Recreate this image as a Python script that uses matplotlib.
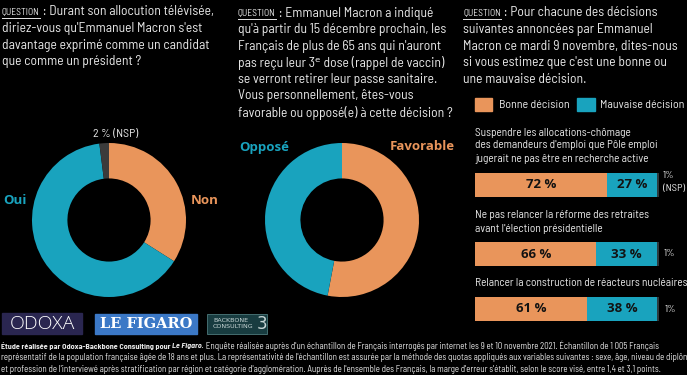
import matplotlib.pyplot as plt
from matplotlib.patches import Rectangle

# sondage Odoxa - Backbone Consulting pour Le Figaro, 9-10 nov 2021
q1_labels = ['Non', 'Oui', 'NSP']
q1_values = [34, 64, 2]

q2_labels = ['Favorable', 'Opposé']
q2_values = [53, 47]

q3_items = ['Suspendre les allocations-chômage', 'Ne pas relancer la réforme des retraites', 'Relancer la construction de réacteurs nucléaires']
q3_bonne = [72, 66, 61]
q3_mauvaise = [27, 33, 38]
q3_nsp = [1, 1, 1]

ORANGE = '#E9955B'
TEAL = '#19A3BE'
GREY = '#3b3b3b'
TXT = '#e8e8e8'
DARK = '#121212'
FONT = ['Barlow Semi Condensed', 'Barlow Condensed', 'Encode Sans Condensed', 'DejaVu Sans']
BOLD = ['Open Sans', 'DejaVu Sans']
W, H = 687, 375

plt.rcParams['font.family'] = FONT

fig = plt.figure(figsize=(W / 100, H / 100), dpi=100, facecolor='black')
bg = fig.add_axes([0, 0, 1, 1])
bg.set_xlim(0, W)
bg.set_ylim(H, 0)
bg.axis('off')
bg.set_facecolor('black')
renderer = fig.canvas.get_renderer()


def right_of(t):
	bb = t.get_window_extent(renderer)
	return bg.transData.inverted().transform((bb.x1, bb.y0))[0]


def question(x, y, first, rest, size=9.8, step=16.6):
	q = bg.text(x, y + 0.8, 'QUESTION', color=TXT, fontsize=size * 0.7, va='center')
	x1 = right_of(q)
	bg.plot([x, x1], [y + 5.5, y + 5.5], color=TXT, lw=0.7)
	bg.text(x1, y, ' : ' + first, color=TXT, fontsize=size, va='center')
	for i, line in enumerate(rest):
		bg.text(x, y + step * (i + 1), line, color=TXT, fontsize=size, va='center')


question(2, 12, 'Durant son allocution télévisée,',
	["diriez-vous qu'Emmanuel Macron s'est",
	 'davantage exprimé comme un candidat',
	 'que comme un président ?'])
question(238, 13, 'Emmanuel Macron a indiqué',
	["qu'à partir du 15 décembre prochain, les",
	 "Français de plus de 65 ans qui n'auront",
	 'pas reçu leur 3ᵉ dose (rappel de vaccin)',
	 'se verront retirer leur passe sanitaire.',
	 'Vous personnellement, êtes-vous',
	 'favorable ou opposé(e) à cette décision ?'])
question(463, 13, 'Pour chacune des décisions',
	['suivantes annoncées par Emmanuel',
	 'Macron ce mardi 9 novembre, dites-nous',
	 "si vous estimez que c'est une bonne ou",
	 'une mauvaise décision.'])


# donuts
def donut(cx, cy, r, values, colors):
	ax = fig.add_axes([(cx - r) / W, 1 - (cy + r) / H, 2 * r / W, 2 * r / H])
	ax.pie(values, colors=colors, startangle=90, counterclock=False,
		wedgeprops=dict(width=0.46, edgecolor='none'))
	ax.set_xlim(-1, 1)
	ax.set_ylim(-1, 1)
	ax.axis('off')
	return ax


donut(109, 220, 77, q1_values, [ORANGE, TEAL, GREY])
donut(342, 220, 77, q2_values, [ORANGE, TEAL])

bold = dict(fontsize=9.5, fontweight='bold', va='center', ha='center', family=BOLD)
bg.text(15, 201, q1_labels[1], color=TEAL, **bold)
bg.text(205, 201, q1_labels[0], color=ORANGE, **bold)
bg.text(52, 200, '%d %%' % q1_values[1], color=DARK, **bold)
bg.text(164, 200, '%d %%' % q1_values[0], color=DARK, **bold)
bg.text(116, 134, '%d %% (NSP)' % q1_values[2], color=TXT, fontsize=8.6, va='center', ha='center')

bg.text(264, 147, q2_labels[1], color=TEAL, **bold)
bg.text(422, 147, q2_labels[0], color=ORANGE, **bold)
bg.text(282, 221, '%d %%' % q2_values[1], color=DARK, **bold)
bg.text(402, 219, '%d %%' % q2_values[0], color=DARK, **bold)

# legende
bg.add_patch(Rectangle((475, 98), 17, 13, color=ORANGE))
bg.text(499, 104.5, 'Bonne décision', color=TXT, fontsize=8.6, va='center')
bg.add_patch(Rectangle((577, 98), 18, 13, color=TEAL))
bg.text(600, 104.5, 'Mauvaise décision', color=TXT, fontsize=8.6, va='center')

# barres
item_text = [
	['Suspendre les allocations-chômage', "des demandeurs d'emploi que Pôle emploi", 'jugerait ne pas être en recherche active'],
	['Ne pas relancer la réforme des retraites', "avant l'élection présidentielle"],
	['Relancer la construction de réacteurs nucléaires'],
]
text_y = [132.5, 215.5, 283.5]
bar_y = [185, 254, 308.5]
for i in range(3):
	for j, line in enumerate(item_text[i]):
		bg.text(475, text_y[i] + 13 * j, line, color=TXT, fontsize=8.2, va='center')
	ax = fig.add_axes([475 / W, 1 - (bar_y[i] + 12) / H, 184 / W, 24 / H])
	segs = [q3_bonne[i], q3_mauvaise[i], q3_nsp[i]]
	cols = [ORANGE, TEAL, '#2e3a3e']
	left = 0
	for v, c in zip(segs, cols):
		ax.barh(0, v, left=left, height=1, color=c, edgecolor='none')
		if c != cols[2]:
			ax.text(left + v / 2, 0, '%d %%' % v, color=DARK, fontsize=9.5,
				fontweight='bold', ha='center', va='center', family=BOLD)
		left += v
	ax.set_xlim(0, 100)
	ax.set_ylim(-0.5, 0.5)
	ax.axis('off')

bg.text(663, 176, '%d%%' % q3_nsp[0], color=TXT, fontsize=7.5, va='center')
bg.text(663, 189, '(NSP)', color=TXT, fontsize=7.5, va='center')
bg.text(664, 254, '%d%%' % q3_nsp[1], color=TXT, fontsize=7.5, va='center')
bg.text(665, 309, '%d%%' % q3_nsp[2], color=TXT, fontsize=7.5, va='center')

# logos
bg.add_patch(Rectangle((2, 313), 80, 21, color='#2a2650'))
bg.text(42, 324, 'ODOXA', color='white', fontsize=14, fontweight='light', ha='center',
	va='center', family=BOLD)
bg.add_patch(Rectangle((95, 313.5), 102, 20.5, color='#3b78c6'))
bg.text(146, 324, 'LE FIGARO', color='white', fontsize=10.5, fontweight='bold',
	ha='center', va='center', family='DejaVu Serif')
bg.add_patch(Rectangle((207, 313.5), 60, 20.5, facecolor='#183c40', edgecolor='#4d7a7c', lw=0.6))
bg.text(213, 323.5, 'BACKBONE\nCONSULTING', color='#c8d6d6', fontsize=4.6, va='center',
	linespacing=1.0, family='DejaVu Sans')
bg.text(257, 324, '3', color='#c8d6d6', fontsize=12, va='center', family='DejaVu Sans')

# note
fs = 6.4
t = bg.text(1, 346, 'Étude réalisée par Odoxa-Backbone Consulting pour ', color=TXT,
	fontsize=5.8, fontweight='bold', va='center')
t = bg.text(right_of(t), 346, 'Le Figaro.', color=TXT, fontsize=5.8, fontweight='bold',
	fontstyle='italic', va='center')
bg.text(right_of(t), 346, " Enquête réalisée auprès d'un échantillon de Français interrogés par internet "
	'les 9 et 10 novembre 2021. Échantillon de 1 005 Français', color=TXT, fontsize=fs, va='center')
bg.text(1, 357.5, 'représentatif de la population française âgée de 18 ans et plus. '
	"La représentativité de l'échantillon est assurée par la méthode des quotas appliqués aux "
	'variables suivantes : sexe, âge, niveau de diplôme', color=TXT, fontsize=fs, va='center')
bg.text(1, 369, "et profession de l'interviewé après stratification par région et catégorie "
	"d'agglomération. Auprès de l'ensemble des Français, la marge d'erreur s'établit, selon le "
	'score visé, entre 1,4 et 3,1 points.', color=TXT, fontsize=fs, va='center')

fig.savefig('out.png', dpi=100, facecolor='black')
